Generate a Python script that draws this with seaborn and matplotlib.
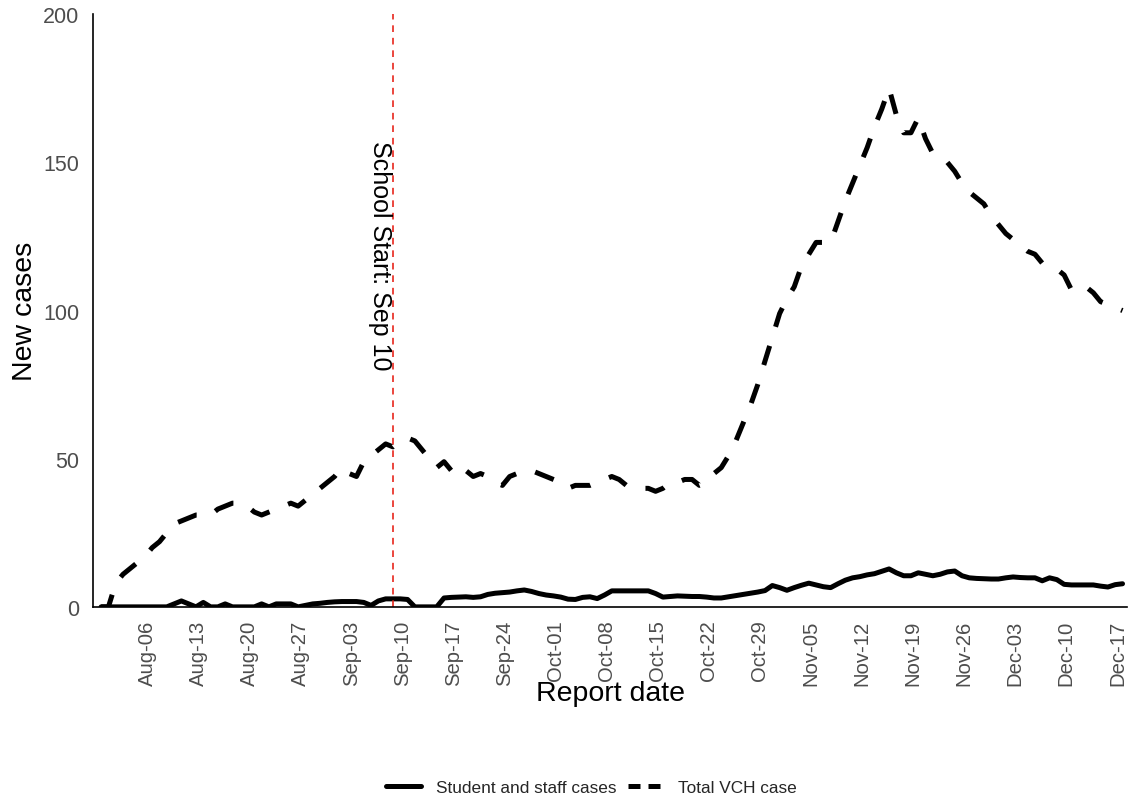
import pandas as pd
import numpy as np
import matplotlib
matplotlib.use("Agg")
import matplotlib.pyplot as plt
import matplotlib.dates as mdates
import seaborn as sns

# daily report dates, Aug 1 to Dec 19
start_date = "2020-08-01"
n_days = 141

# Total VCH cases (dashed)
total_vch = [
    0, 0, 8, 11, 13, 15, 17, 20, 22, 25,
    28, 29, 30, 31, 31, 31, 33, 34, 35, 35,
    34, 32, 31, 32, 33, 34, 35, 34, 36, 39,
    40, 42, 44, 47, 45, 44, 49, 51, 53, 55,
    54, 56, 57, 56, 53, 50, 47, 49, 46, 48,
    46, 44, 45, 44, 42, 41, 44, 45, 46, 46,
    45, 44, 43, 42, 40, 41, 41, 41, 42, 43,
    44, 43, 41, 40, 40, 40, 39, 40, 42, 42,
    43, 43, 41, 42, 45, 47, 51, 56, 62, 68,
    75, 83, 91, 99, 104, 108, 115, 119, 123, 123,
    123, 130, 137, 143, 149, 155, 162, 168, 175, 166,
    160, 160, 165, 158, 153, 151, 150, 147, 143, 140,
    138, 136, 132, 129, 126, 124, 122, 120, 119, 116,
    115, 114, 112, 107, 108, 108, 106, 103, 102, 101,
    100,
]

# Student and staff cases (solid)
student_staff = [
    0, 0, 0, 0, 0, 0, 0, 0, 0, 0,
    1, 2, 1, 0, 1.5, 0, 0, 1, 0, 0,
    0, 0, 1, 0, 1, 1, 1, 0, 0.5, 1,
    1.2, 1.5, 1.7, 1.8, 1.8, 1.8, 1.5, 0.5, 2, 2.7,
    2.7, 2.7, 2.5, 0, 0, 0, 0, 3, 3.2, 3.3,
    3.4, 3.2, 3.4, 4.2, 4.6, 4.8, 5, 5.4, 5.7, 5.2,
    4.5, 4, 3.7, 3.3, 2.6, 2.5, 3.2, 3.4, 2.8, 4,
    5.4, 5.4, 5.4, 5.4, 5.4, 5.4, 4.5, 3.3, 3.5, 3.7,
    3.6, 3.5, 3.5, 3.3, 3, 3, 3.4, 3.8, 4.2, 4.6,
    5, 5.5, 7.2, 6.5, 5.6, 6.5, 7.3, 8, 7.4, 6.8,
    6.5, 7.8, 9, 9.8, 10.2, 10.8, 11.2, 12, 12.8, 11.5,
    10.5, 10.5, 11.5, 11, 10.5, 11, 11.8, 12.1, 10.5, 9.8,
    9.6, 9.5, 9.4, 9.4, 9.8, 10.1, 9.9, 9.8, 9.8, 8.8,
    9.8, 9.2, 7.6, 7.4, 7.4, 7.4, 7.4, 7, 6.7, 7.5,
    7.8,
]

tick_dates = pd.date_range("2020-08-06", "2020-12-17", freq="7D")
school_start = pd.Timestamp("2020-09-10")

dates = pd.date_range(start_date, periods=n_days, freq="D")
df = pd.concat([
    pd.DataFrame({"date": dates, "cases": student_staff, "series": "Student and staff cases"}),
    pd.DataFrame({"date": dates, "cases": total_vch, "series": "Total VCH case"}),
])

sns.set_theme(style="white")
plt.rcParams["font.family"] = ["Liberation Sans", "DejaVu Sans"]

fig, ax = plt.subplots(figsize=(11.37, 8.03), dpi=100)
fig.subplots_adjust(left=0.082, right=0.991, top=0.981, bottom=0.243)

sns.lineplot(
    data=df, x="date", y="cases", hue="series", style="series",
    palette={"Student and staff cases": "black", "Total VCH case": "black"},
    dashes={"Student and staff cases": "", "Total VCH case": (4, 4)},
    linewidth=3.6, ax=ax,
)

# school start marker
ax.axvline(school_start, color="#E8261C", linestyle=(0, (4, 3.5)), linewidth=1.2)
ax.text(school_start - pd.Timedelta(days=1.8), 119, "School Start: Sep 10",
        rotation=-90, ha="center", va="center", fontsize=18, color="black")

ax.set_xlim(pd.Timestamp("2020-07-31") - pd.Timedelta(hours=2), pd.Timestamp("2020-12-19") + pd.Timedelta(hours=14))
ax.set_ylim(0, 200)
ax.set_yticks([0, 50, 100, 150, 200])
ax.set_xticks(tick_dates)
ax.xaxis.set_major_formatter(mdates.DateFormatter("%b-%d"))

ax.tick_params(axis="both", length=0, labelcolor="#4D4D4D")
ax.tick_params(axis="x", pad=9, labelsize=14.6)
ax.tick_params(axis="y", pad=10, labelsize=15.5)
plt.setp(ax.get_xticklabels(), rotation=90, ha="left", va="top")

ax.set_xlabel("Report date", fontsize=20.5, color="black")
ax.set_ylabel("New cases", fontsize=20.5, color="black")
ax.xaxis.set_label_coords(0.5, -0.124)
ax.yaxis.set_label_coords(-0.053, 0.5)

for side in ["top", "right"]:
    ax.spines[side].set_visible(False)
for side in ["left", "bottom"]:
    ax.spines[side].set_color("black")
    ax.spines[side].set_linewidth(1.2)

sns.move_legend(ax, "center", bbox_to_anchor=(0.482, -0.305), ncol=2, title=None,
                frameon=False, fontsize=12.4, handlelength=2.0, columnspacing=0.7,
                handletextpad=0.87)
leg = ax.get_legend()
for line in leg.get_lines():
    line.set_linewidth(3.6)
leg.get_lines()[1].set_dashes((2.4, 1.6))

plt.savefig("out.png", dpi=100)
plt.close()
